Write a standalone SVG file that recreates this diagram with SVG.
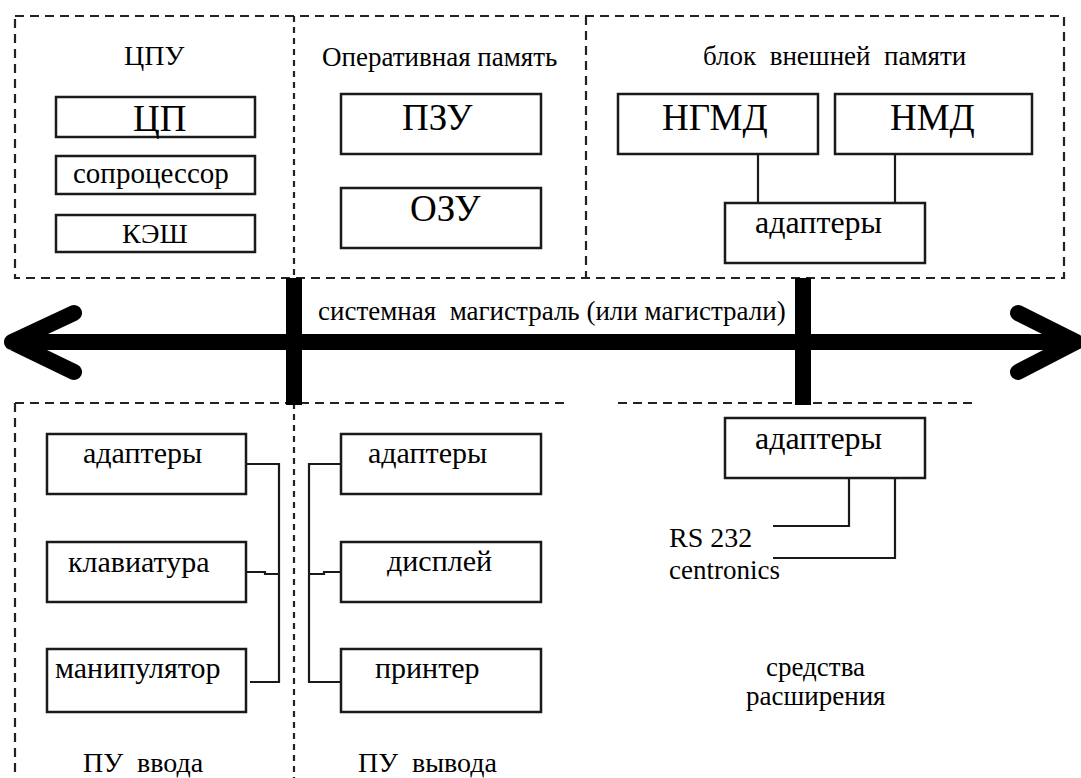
<svg xmlns="http://www.w3.org/2000/svg" width="1081" height="778" viewBox="0 0 1081 778">
<rect width="1081" height="778" fill="#fff"/>
<g id="frames" fill="none" stroke="#222" stroke-width="2.2">
<path stroke-dasharray="9,6" d="M15 16H1064V278H15Z"/>
<path stroke-dasharray="6,5" d="M294 16V278"/>
<path stroke-dasharray="9,6" d="M586 16V278"/>
<path stroke-dasharray="9,6" d="M15 403H570M618 403H978"/>
<path stroke-dasharray="9,6" d="M15 403V778"/>
<path stroke-dasharray="6,5" d="M294 403V778"/>
</g>
<g id="cpu">
<text x="124" y="65" font-family="'Liberation Serif'" font-size="28">ЦПУ</text>
<rect x="56" y="97" width="199" height="40" fill="#fff" stroke="#1a1a1a" stroke-width="2.5"/>
<text x="133" y="131" font-family="'Liberation Serif'" font-size="37">ЦП</text>
<rect x="56" y="156" width="199" height="38" fill="#fff" stroke="#1a1a1a" stroke-width="2.5"/>
<text x="73" y="183" font-family="'Liberation Serif'" font-size="29">сопроцессор</text>
<rect x="56" y="215" width="199" height="37" fill="#fff" stroke="#1a1a1a" stroke-width="2.5"/>
<text x="122" y="243" font-family="'Liberation Serif'" font-size="28">КЭШ</text>
</g>
<g id="ram">
<text x="322" y="66" font-family="'Liberation Serif'" font-size="27">Оперативная память</text>
<rect x="341" y="94" width="200" height="60" fill="#fff" stroke="#1a1a1a" stroke-width="2.5"/>
<text x="402" y="130" font-family="'Liberation Serif'" font-size="37">ПЗУ</text>
<rect x="341" y="188" width="200" height="60" fill="#fff" stroke="#1a1a1a" stroke-width="2.5"/>
<text x="410" y="221" font-family="'Liberation Serif'" font-size="37">ОЗУ</text>
</g>
<g id="ext">
<text x="703" y="65" font-family="'Liberation Serif'" font-size="27" xml:space="preserve">блок  внешней  памяти</text>
<rect x="618" y="94" width="200" height="60" fill="#fff" stroke="#1a1a1a" stroke-width="2.5"/>
<text x="662" y="130" font-family="'Liberation Serif'" font-size="37">НГМД</text>
<rect x="835" y="94" width="197" height="60" fill="#fff" stroke="#1a1a1a" stroke-width="2.5"/>
<text x="890" y="130" font-family="'Liberation Serif'" font-size="37">НМД</text>
<rect x="725" y="203" width="200" height="60" fill="#fff" stroke="#1a1a1a" stroke-width="2.5"/>
<text x="755" y="233" font-family="'Liberation Serif'" font-size="32">адаптеры</text>
</g>
<g id="bus">
<path fill="none" stroke="#000" stroke-width="16" stroke-linecap="round" stroke-linejoin="round" d="M12 342H1075M74 313L12 342L74 372M1018 313L1076 342L1018 372"/>
<rect x="286" y="278" width="16" height="127" fill="#000"/>
<rect x="795" y="278" width="16" height="127" fill="#000"/>
<text x="318" y="320" font-family="'Liberation Serif'" font-size="27" xml:space="preserve">системная  магистраль (или магистрали)</text>
</g>
<g id="input">
<rect x="47" y="434" width="199" height="60" fill="#fff" stroke="#1a1a1a" stroke-width="2.5"/>
<text x="83" y="463" font-family="'Liberation Serif'" font-size="30">адаптеры</text>
<rect x="47" y="542" width="199" height="60" fill="#fff" stroke="#1a1a1a" stroke-width="2.5"/>
<text x="68" y="572" font-family="'Liberation Serif'" font-size="30">клавиатура</text>
<rect x="47" y="649" width="199" height="63" fill="#fff" stroke="#1a1a1a" stroke-width="2.5"/>
<text x="55" y="678" font-family="'Liberation Serif'" font-size="30">манипулятор</text>
<text x="83" y="772" font-family="'Liberation Serif'" font-size="28" xml:space="preserve">ПУ  ввода</text>
</g>
<g id="output">
<rect x="341" y="434" width="200" height="60" fill="#fff" stroke="#1a1a1a" stroke-width="2.5"/>
<text x="368" y="463" font-family="'Liberation Serif'" font-size="30">адаптеры</text>
<rect x="341" y="542" width="200" height="60" fill="#fff" stroke="#1a1a1a" stroke-width="2.5"/>
<text x="387" y="571" font-family="'Liberation Serif'" font-size="30">дисплей</text>
<rect x="341" y="649" width="200" height="63" fill="#fff" stroke="#1a1a1a" stroke-width="2.5"/>
<text x="375" y="678" font-family="'Liberation Serif'" font-size="30">принтер</text>
<text x="358" y="772" font-family="'Liberation Serif'" font-size="28" xml:space="preserve">ПУ  вывода</text>
</g>
<g id="expansion">
<rect x="725" y="418" width="200" height="60" fill="#fff" stroke="#1a1a1a" stroke-width="2.5"/>
<text x="755" y="449" font-family="'Liberation Serif'" font-size="32">адаптеры</text>
<text x="669" y="547" font-family="'Liberation Serif'" font-size="28">RS 232</text>
<text x="669" y="579" font-family="'Liberation Serif'" font-size="27">centronics</text>
<text x="766" y="676" font-family="'Liberation Serif'" font-size="27">средства</text>
<text x="746" y="705" font-family="'Liberation Serif'" font-size="27">расширения</text>
</g>
<g id="connectors" fill="none" stroke="#1a1a1a" stroke-width="2.2">
<path d="M758 154V203M895 154V203"/>
<path d="M246 464H279V682H250M246 572H265V574H279"/>
<path d="M341 464H309V682H341M309 574H324V572H341"/>
<path d="M849 478V526H773M895 478V558H773"/>
</g>
</svg>
